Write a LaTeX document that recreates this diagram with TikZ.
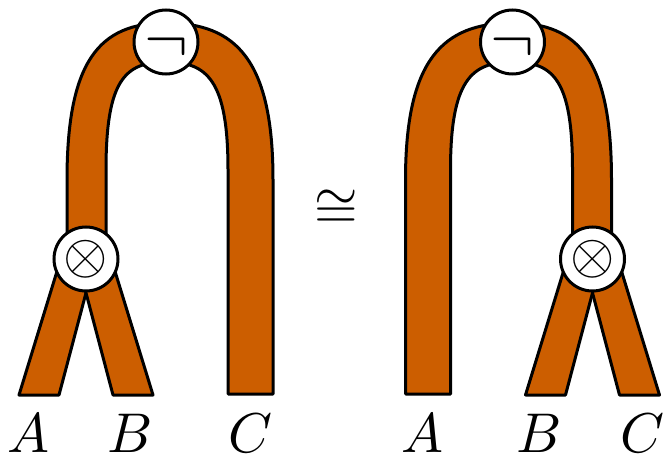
\documentclass[tikz,border=0pt]{standalone}
\definecolor{strandorange}{RGB}{204,94,0}
\tikzset{
  strand/.style={fill=strandorange, draw=black, line width=3pt, line join=round},
  gate/.style={circle, draw=black, fill=white, line width=3pt, minimum size=64pt, inner sep=0pt},
  sym/.style={scale=5.7, inner sep=0pt},
  negsym/.style={scale=6.6, inner sep=0pt},
  lab/.style={scale=5.6, inner sep=0pt, anchor=base}
}
\newcommand{\halfdiagram}[1]{%
  \coordinate (#1legLa) at (19,395);
  \coordinate (#1legLb) at (59,395);
  \coordinate (#1legRa) at (153,395);
  \coordinate (#1legRb) at (113,395);
  \coordinate (#1endC) at (273,394);
  \path[strand] (67,259) -- (67,180) .. controls (67,60) and (100,23) .. (166,23)
     .. controls (236,23) and (273,60) .. (273,180) -- (#1endC) -- (228,394) -- (228,170)
     .. controls (228,80) and (207,62) .. (166,62)
     .. controls (125,62) and (106,80) .. (106,170) -- (106,259) -- cycle;
  \path[strand] (#1legLa) -- (#1legLb) -- (86.5,291) -- (86,255) -- (62,255) -- cycle;
  \path[strand] (#1legRa) -- (#1legRb) -- (85.5,291) -- (86,255) -- (110,255) -- cycle;
  \node[gate] (#1ten) at (86,259) {};
  \node[gate] (#1neg) at (166,42) {};
  \node[sym] (#1tensym) at (#1ten) {$\otimes$};
  \node[negsym] (#1negsym) at (166,47.5) {$\neg$};
}
\begin{document}
\begin{tikzpicture}[x=1pt, y=-1pt]
  \useasboundingbox (0,0) rectangle (663,457);
  \begin{scope}
    \halfdiagram{L}
  \end{scope}
  \begin{scope}[xshift=678.5pt, xscale=-1]
    \halfdiagram{R}
  \end{scope}
  \node[lab] (LA) at (29,452) {$A$};
  \node[lab] (LB) at (130,452) {$B$};
  \node[lab] (LC) at (251,452) {$C$};
  \node[lab] (RA) at (422,452) {$A$};
  \node[lab] (RB) at (539,452) {$B$};
  \node[lab] (RC) at (643,452) {$C$};
  \node[scale=5.6, inner sep=0pt] (iso) at (336,209) {$\cong$};
\end{tikzpicture}
\end{document}
